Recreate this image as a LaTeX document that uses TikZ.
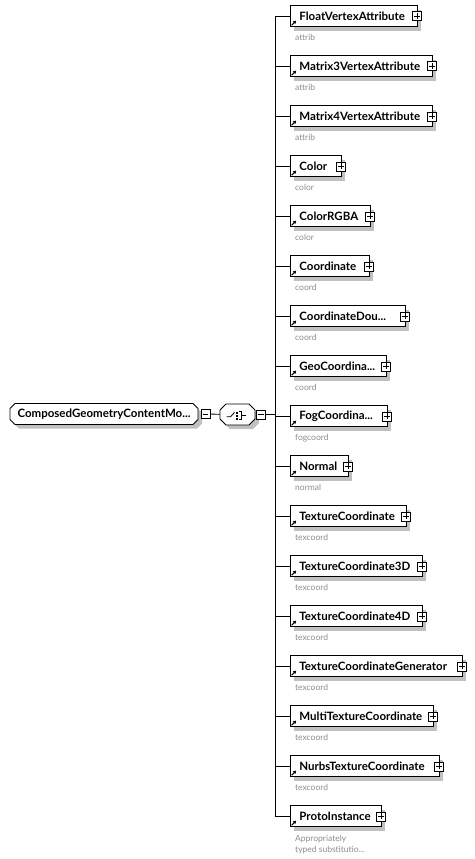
\documentclass[tikz,border=0pt]{standalone}
\usepackage{fontspec}
\setmainfont{Lato}
\usetikzlibrary{arrows.meta,positioning,calc,shadows}
\newcommand\mydots{...}
\definecolor{shadegray}{HTML}{C0C0C0}
\definecolor{notegray}{HTML}{8C8C8C}

\begin{document}
\begin{tikzpicture}[x=1pt,y=-1pt,font=\fontsize{11.5}{13}\selectfont\bfseries,
  ln/.style={line width=0.8pt},
  boxshadow/.style={general shadow={fill=shadegray,draw=none,shadow xshift=4pt,shadow yshift=-4pt}},
  elbox/.style={draw,fill=white,ln,boxshadow,minimum height=21,inner xsep=0,inner ysep=0,anchor=west,align=left},
  grpbox/.style={draw,fill=white,ln,boxshadow},
  plusbox/.style={draw,fill=white,line width=0.6pt,minimum size=9,inner sep=0,
    path picture={\draw[line width=0.6pt] ([xshift=1.6pt]path picture bounding box.west) -- ([xshift=-1.6pt]path picture bounding box.east)
      ([yshift=-1.6pt]path picture bounding box.north) -- ([yshift=1.6pt]path picture bounding box.south);}},
  minusbox/.style={draw,fill=white,line width=0.6pt,minimum size=9,inner sep=0,
    path picture={\draw[line width=0.6pt] ([xshift=1.6pt]path picture bounding box.west) -- ([xshift=-1.6pt]path picture bounding box.east);}},
  note/.style={text=notegray,font=\fontsize{8.5}{11}\selectfont,anchor=base west,inner sep=0}]
\useasboundingbox (0,0) rectangle (474,859);

% group: octagon outline
\path[grpbox] (15,403.5) -- (193,403.5) -- (198,408.5) -- (198,419.5) -- (193,424.5)
  -- (15,424.5) -- (10,419.5) -- (10,408.5) -- cycle;
\node[inner sep=0,minimum width=188,minimum height=21] (cg) at (104,414) {ComposedGeometryContentMo\mydots};
\node[minusbox] (cgm) at (205.5,414) {};

% sequence compositor
\path[grpbox] (226,404) -- (249,404) -- (255,410) -- (255,419) -- (249,425)
  -- (226,425) -- (220,419) -- (220,410) -- cycle;
\node[inner sep=0,minimum width=35,minimum height=21] (seq) at (237.5,414.5) {};
\node[minusbox] (seqm) at (261,414.5) {};
\draw[ln] (cgm) -- (seq);
\draw[ln] (226.5,416.7) -- (230.7,416.7) -- (234.5,412.3);
\foreach \yy in {411.8,414.8,417.8} \fill (236.2,\yy) rectangle ++(2,2);
\draw[line width=0.7pt] (238.6,411.6) -- (241.8,411.6) -- (241.8,419.6) -- (238.6,419.6) (241.8,415.6) -- (245.5,415.6);

% child elements
\foreach \i/\lab/\nt/\r in {0/FloatVertexAttribute/attrib/417,1/Matrix3VertexAttribute/attrib/432,
  2/Matrix4VertexAttribute/attrib/432,3/Color/color/341,4/ColorRGBA/color/370,5/Coordinate/coord/369,
  6/CoordinateDou\mydots/coord/405,7/GeoCoordina\mydots/coord/386,8/FogCoordina\mydots/fogcoord/387,
  9/Normal/normal/348,10/TextureCoordinate/texcoord/406,11/TextureCoordinate3D/texcoord/422,
  12/TextureCoordinate4D/texcoord/422,13/TextureCoordinateGenerator/texcoord/462,
  14/MultiTextureCoordinate/texcoord/433,15/NurbsTextureCoordinate/texcoord/439,16/ProtoInstance//381} {
  \pgfmathsetmacro\yc{16.3+50*\i}
  \pgfmathsetmacro\w{\r-290}
  \coordinate (bus\i) at (275,\yc);
  \node[elbox,text width=\w pt] (e\i) at (290,\yc) {\hspace*{9pt}\lab};
  \node[plusbox] (p\i) at (\r,\yc) {};
  \draw[line width=1.1pt,-{Triangle[length=3pt,width=3.4pt]}] ($(e\i.south west)+(1.6,-2)$) -- ++(4.6,-4.6);
  \draw[ln] (bus\i) -- (e\i);
  \node[note] (n\i) at (295,\yc+24) {\nt};
}
\node[note] (n16a) at (295,841) {Appropriately};
\node[note] (n16b) at (295,852.5) {typed substitutio\mydots};

\draw[ln] (bus0) -- (bus16);
\draw[ln] (seqm) -- (seqm -| bus0);
\end{tikzpicture}
\end{document}
